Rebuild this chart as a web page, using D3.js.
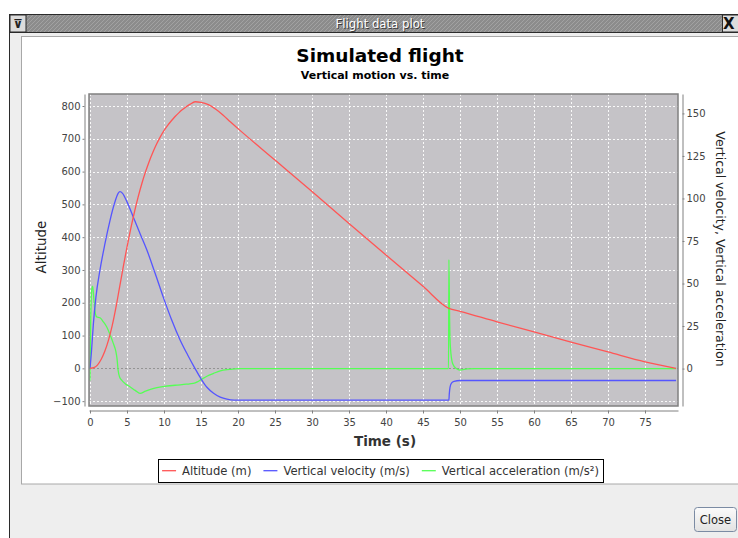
<!DOCTYPE html>
<html>
<head>
<meta charset="utf-8">
<script src="https://cdn.jsdelivr.net/npm/d3@7/dist/d3.min.js"></script>
<style>
  html, body { margin: 0; padding: 0; background: #ffffff; }
  svg { display: block; }
</style>
</head>
<body>
<svg id="chart" width="738" height="538"></svg>
<script>
// ---------------- DATA ----------------
const windowTitle = "Flight data plot";
const chartTitle = "Simulated flight";
const chartSubtitle = "Vertical motion vs. time";
const xAxisLabel = "Time (s)";
const leftAxisLabel = "Altitude";
const rightAxisLabel = "Vertical velocity, Vertical acceleration";
const seriesNames = ["Altitude (m)", "Vertical velocity (m/s)", "Vertical acceleration (m/s²)"];
const seriesColors = ["#ff5555", "#5555ff", "#55ff55"];

const xTicks = [0, 5, 10, 15, 20, 25, 30, 35, 40, 45, 50, 55, 60, 65, 70, 75];
const leftTicks = [-100, 0, 100, 200, 300, 400, 500, 600, 700, 800];
const rightTicks = [0, 25, 50, 75, 100, 125, 150];

// Altitude (m)
const altTime = [0, 0.5, 1.0, 1.5, 2.0, 2.5, 3.0, 3.5, 4.0, 4.5, 5.0, 5.5, 6.0, 6.5, 7.0, 7.5, 8.0, 8.5, 9.0, 9.5, 10, 10.5, 11, 11.5, 12, 12.5, 13, 13.5, 14.2, 15, 16, 17, 18, 19, 20, 25, 30, 35, 40, 45, 48.5, 50, 55, 60, 65, 70, 75, 79.2];
const altValue = [0, 2, 10, 27, 52, 86, 130, 185, 248, 310, 370, 425, 476, 522, 563, 599, 631, 659, 684, 706, 725, 741, 755, 768, 779, 789, 798, 805, 813, 811, 804, 790, 772, 751, 731, 635, 539, 442, 346, 250, 183, 174, 142, 111, 80, 50, 20, 0];

// Vertical velocity (m/s)
const velTime = [0, 0.2, 0.45, 0.8, 1.35, 2.0, 2.7, 3.3, 3.8, 4.05, 4.4, 5.0, 5.86, 6.8, 7.66, 8.8, 9.9, 11.0, 12.16, 13.2, 14.2, 15.0, 15.8, 16.7, 17.6, 18.5, 19.5, 48.5, 48.55, 48.65, 48.85, 49.2, 50, 79.2];
const velValue = [0, 10, 26, 42, 58, 73, 87, 97, 103, 104, 103, 98, 89, 79, 70, 56, 42, 29, 17, 8, 0, -6, -11, -14.5, -16.8, -18, -18.5, -18.5, -15, -11, -8.5, -7.5, -7, -7];

// Vertical acceleration (m/s²)
const accTime = [0, 0.1, 0.25, 0.36, 0.5, 0.7, 0.9, 1.35, 1.8, 2.25, 2.7, 3.15, 3.5, 3.65, 3.8, 4.0, 4.28, 4.8, 5.4, 6.1, 6.76, 7.5, 8.5, 9.9, 11.5, 13.0, 13.96, 14.5, 14.9, 15.8, 16.7, 17.6, 18.9, 20, 48.45, 48.5, 48.6, 48.7, 49.0, 49.5, 50.0, 51, 52, 79.2];
const accValue = [-7, 30, 47, 48.5, 42, 33, 30.4, 29.9, 27.5, 24.6, 20, 14.8, 10, 6, -1, -5, -6.8, -9, -10.7, -12.8, -14.6, -13.3, -11.8, -10.6, -9.8, -9.2, -8.7, -7.8, -6.8, -4.5, -2.8, -1.3, -0.5, 0, 0, 64, 28, 12.8, 3, 0, -0.9, -0.2, 0, 0];

// ---------------- LAYOUT ----------------
const svg = d3.select("#chart");
const W = 738, H = 538;
const plot = { left: 89, right: 678, top: 94, bottom: 406 };

const x = d3.scaleLinear().domain([-0.135, 79.46]).range([plot.left, plot.right]);
const yL = d3.scaleLinear().domain([-114.8, 836.6]).range([plot.bottom, plot.top]);
const yR = d3.scaleLinear().domain([-22.0, 161.4]).range([plot.bottom, plot.top]);

// ---------------- WINDOW CHROME ----------------
const defs = svg.append("defs");
const hatch = defs.append("pattern").attr("id", "hatch").attr("patternUnits", "userSpaceOnUse")
  .attr("width", 4).attr("height", 4);
hatch.append("path").attr("d", "M0,4 L4,0 M-1,1 L1,-1 M3,5 L5,3").attr("stroke", "#a2a2a2").attr("stroke-width", 1);

// window body
svg.append("rect").attr("x", 9).attr("y", 14).attr("width", W - 9).attr("height", H - 14).attr("fill", "#eeeeee");
svg.append("line").attr("x1", 9.5).attr("x2", 9.5).attr("y1", 14).attr("y2", H).attr("stroke", "#2b2b2b");
// title bar
svg.append("rect").attr("x", 9.5).attr("y", 14.5).attr("width", W).attr("height", 18).attr("fill", "#8c8c8c").attr("stroke", "#2b2b2b");
svg.append("rect").attr("x", 10).attr("y", 15).attr("width", W).attr("height", 17).attr("fill", "url(#hatch)");
svg.append("rect").attr("x", 10).attr("y", 15).attr("width", 16).attr("height", 17).attr("fill", "#dcdcdc").attr("stroke", "#2b2b2b");
svg.append("text").attr("x", 18).attr("y", 28).attr("text-anchor", "middle")
  .attr("font-family", "DejaVu Sans").attr("font-size", 12).attr("font-weight", "bold").attr("fill", "#222").text("⊽");
svg.append("rect").attr("x", 722.5).attr("y", 15).attr("width", 20).attr("height", 17).attr("fill", "#dcdcdc").attr("stroke", "#2b2b2b");
svg.append("text").attr("x", 723).attr("y", 29).attr("font-family", "DejaVu Sans").attr("font-size", 15).attr("font-weight", "bold").attr("fill", "#111").text("X");
svg.append("text").attr("x", 381).attr("y", 29).attr("text-anchor", "middle")
  .attr("font-family", "DejaVu Sans Condensed, DejaVu Sans").attr("font-size", 13)
  .attr("fill", "#3a3a3a").text(windowTitle);
svg.append("text").attr("x", 380).attr("y", 28).attr("text-anchor", "middle")
  .attr("font-family", "DejaVu Sans Condensed, DejaVu Sans").attr("font-size", 13)
  .attr("fill", "#ffffff").text(windowTitle);

// chart panel
svg.append("rect").attr("x", 21.5).attr("y", 36.5).attr("width", W).attr("height", 447.5)
  .attr("fill", "#ffffff").attr("stroke", "#a8a8a8");

// Close button
const btnG = svg.append("g");
const grad = defs.append("linearGradient").attr("id", "btn").attr("x1", 0).attr("x2", 0).attr("y1", 0).attr("y2", 1);
grad.append("stop").attr("offset", 0).attr("stop-color", "#fbfbfb");
grad.append("stop").attr("offset", 1).attr("stop-color", "#e2e2e2");
btnG.append("rect").attr("x", 694.5).attr("y", 507.5).attr("width", 42).attr("height", 24).attr("rx", 3)
  .attr("fill", "url(#btn)").attr("stroke", "#7b8ba3");
btnG.append("text").attr("x", 715.5).attr("y", 524).attr("text-anchor", "middle")
  .attr("font-family", "DejaVu Sans").attr("font-size", 11.5).attr("fill", "#222").text("Close");

// ---------------- TITLES ----------------
svg.append("text").attr("x", 380).attr("y", 62).attr("text-anchor", "middle")
  .attr("font-family", "DejaVu Sans").attr("font-weight", "bold").attr("font-size", 18.5).attr("fill", "#000").text(chartTitle);
svg.append("text").attr("x", 375).attr("y", 79).attr("text-anchor", "middle")
  .attr("font-family", "DejaVu Sans").attr("font-weight", "bold").attr("font-size", 11).attr("fill", "#000").text(chartSubtitle);

// ---------------- PLOT AREA ----------------
svg.append("rect").attr("x", plot.left).attr("y", plot.top).attr("width", plot.right - plot.left).attr("height", plot.bottom - plot.top)
  .attr("fill", "#c5c3c7");

const grid = svg.append("g");
grid.selectAll(".vg").data(xTicks).join("line")
  .attr("x1", d => Math.round(x(d)) + 0.5).attr("x2", d => Math.round(x(d)) + 0.5)
  .attr("y1", plot.top).attr("y2", plot.bottom)
  .attr("stroke", "#ffffff").attr("stroke-dasharray", "2,2").attr("stroke-width", 1).attr("opacity", 0.9);
grid.selectAll(".hg").data(leftTicks).join("line")
  .attr("y1", d => Math.round(yL(d)) + 0.5).attr("y2", d => Math.round(yL(d)) + 0.5)
  .attr("x1", plot.left).attr("x2", plot.right)
  .attr("stroke", d => d === 0 ? "#8f8f8f" : "#ffffff").attr("stroke-dasharray", "2,2").attr("stroke-width", 1).attr("opacity", 0.9);

defs.append("clipPath").attr("id", "clip").append("rect")
  .attr("x", plot.left).attr("y", plot.top).attr("width", plot.right - plot.left).attr("height", plot.bottom - plot.top);

const lines = svg.append("g").attr("clip-path", "url(#clip)");
const mk = (ts, vs) => ts.map((t, i) => [t, vs[i]]);
const series = [
  { data: mk(altTime, altValue), y: yL },
  { data: mk(velTime, velValue), y: yR },
  { data: mk(accTime, accValue), y: yR }
];
[2, 1, 0].forEach(i => {
  const s = series[i];
  const line = d3.line().x(d => x(d[0])).y(d => s.y(d[1])).curve(d3.curveMonotoneX);
  lines.append("path").attr("d", line(s.data)).attr("fill", "none")
    .attr("stroke", seriesColors[i]).attr("stroke-width", 1.3).attr("stroke-linejoin", "round");
});

svg.append("rect").attr("x", plot.left).attr("y", plot.top).attr("width", plot.right - plot.left).attr("height", plot.bottom - plot.top)
  .attr("fill", "none").attr("stroke", "#808080").attr("stroke-width", 1.5);

// ---------------- AXES ----------------
const tickFont = g => {
  g.selectAll("text").attr("font-family", "DejaVu Sans").attr("font-size", 10).attr("fill", "#444");
  g.selectAll("line").attr("stroke", "#808080");
  g.select(".domain").attr("stroke", "#808080");
  g.attr("font-family", null).attr("font-size", null);
};

svg.append("g").attr("transform", "translate(84.5,0)")
  .call(d3.axisLeft(yL).tickValues(leftTicks).tickSize(2).tickSizeOuter(0).tickPadding(2).tickFormat(d3.format("d")))
  .call(tickFont);

svg.append("g").attr("transform", "translate(0,410.5)")
  .call(d3.axisBottom(x).tickValues(xTicks).tickSize(3).tickSizeOuter(0).tickPadding(5).tickFormat(d3.format("d")))
  .call(tickFont);

svg.append("g").attr("transform", "translate(682.5,0)")
  .call(d3.axisRight(yR).tickValues(rightTicks).tickSize(2).tickSizeOuter(0).tickPadding(2).tickFormat(d3.format("d")))
  .call(tickFont);

// axis labels
svg.append("text").attr("transform", "translate(46,247) rotate(-90)").attr("text-anchor", "middle")
  .attr("font-family", "DejaVu Sans").attr("font-size", 13.5).attr("fill", "#222").text(leftAxisLabel);
svg.append("text").attr("transform", "translate(716,249) rotate(90)").attr("text-anchor", "middle")
  .attr("font-family", "DejaVu Sans").attr("font-size", 12.5).attr("fill", "#222").text(rightAxisLabel);
svg.append("text").attr("x", 385).attr("y", 446).attr("text-anchor", "middle")
  .attr("font-family", "DejaVu Sans").attr("font-weight", "bold").attr("font-size", 13.5).attr("fill", "#333").text(xAxisLabel);

// ---------------- LEGEND ----------------
const leg = svg.append("g");
const legBox = leg.append("rect").attr("fill", "#fff").attr("stroke", "#000");
const items = [];
seriesNames.forEach((name, i) => {
  const g = leg.append("g");
  g.append("line").attr("x1", 0).attr("x2", 14).attr("y1", 0).attr("y2", 0).attr("stroke", seriesColors[i]).attr("stroke-width", 1.3);
  const t = g.append("text").attr("x", 20).attr("y", 4).attr("font-family", "DejaVu Sans").attr("font-size", 11.6).attr("fill", "#333").text(name);
  const w = 20 + t.node().getComputedTextLength();
  items.push({ g, w });
});
const gap = 12;
const total = d3.sum(items, d => d.w) + gap * (items.length - 1);
const legCenter = 380.5, legY = 470.7;
let px = legCenter - total / 2;
items.forEach(it => { it.g.attr("transform", `translate(${px},${legY})`); px += it.w + gap; });
legBox.attr("x", Math.round(legCenter - total / 2 - 4) + 0.5).attr("y", 459.5)
  .attr("width", Math.round(total + 8)).attr("height", 23);
</script>
</body>
</html>
